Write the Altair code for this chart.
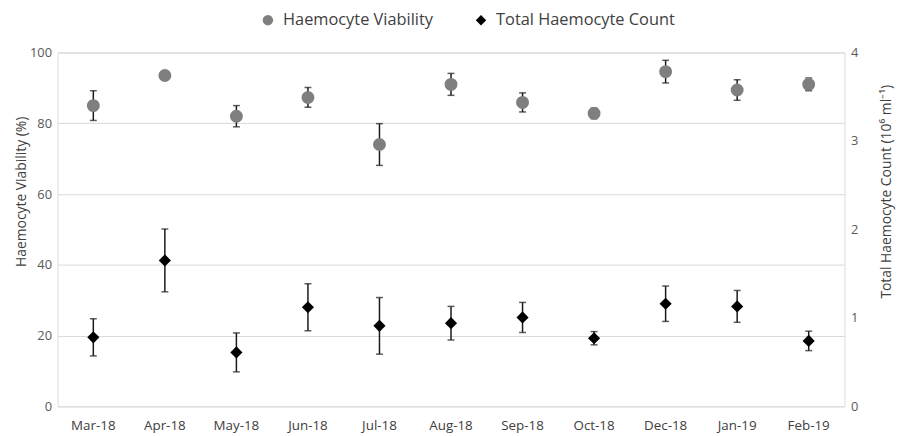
import altair as alt
import pandas as pd

months = ["Mar-18", "Apr-18", "May-18", "Jun-18", "Jul-18", "Aug-18",
          "Sep-18", "Oct-18", "Dec-18", "Jan-19", "Feb-19"]
viability = [85.0, 93.5, 82.0, 87.3, 74.0, 91.0, 85.9, 82.8, 94.6, 89.4, 91.0]
viability_sd = [4.2, 0.8, 3.0, 2.8, 5.9, 3.1, 2.7, 1.5, 3.2, 2.9, 1.8]
thc = [0.78, 1.65, 0.61, 1.12, 0.91, 0.94, 1.005, 0.77, 1.16, 1.13, 0.74]
thc_sd = [0.21, 0.355, 0.22, 0.265, 0.32, 0.19, 0.17, 0.075, 0.20, 0.18, 0.11]

S1 = "Haemocyte Viability"
S2 = "Total Haemocyte Count"

dfa = pd.DataFrame({
    "month": months, "v": viability,
    "lo": [v - s for v, s in zip(viability, viability_sd)],
    "hi": [v + s for v, s in zip(viability, viability_sd)],
    "series": S1,
})
dfb = pd.DataFrame({
    "month": months, "v": thc,
    "lo": [v - s for v, s in zip(thc, thc_sd)],
    "hi": [v + s for v, s in zip(thc, thc_sd)],
    "series": S2,
})

FONT = "Open Sans"
x = alt.X("month:N", sort=months, title=None,
          scale=alt.Scale(paddingInner=0, paddingOuter=0),
          axis=alt.Axis(labelAngle=0, ticks=False, domain=False, grid=False,
                        labelPadding=12, labelFontSize=13.5, labelColor="#404040",
                        labelFont=FONT))


def legend():
    return alt.Legend(orient="none", legendX=204, legendY=-41, direction="horizontal",
                      title=None, labelFontSize=16.5, labelFont=FONT, labelLimit=0,
                      labelColor="#404040", symbolSize=110, columnPadding=40,
                      labelOffset=7)


color = alt.Color("series:N", scale=alt.Scale(domain=[S1, S2], range=["#7f7f7f", "#000000"]),
                  legend=legend())
shape = alt.Shape("series:N", scale=alt.Scale(domain=[S1, S2], range=["circle", "diamond"]),
                  legend=legend())


def layer_for(df, domain, axis, size):
    ys = alt.Scale(domain=domain, nice=False, zero=True)
    base = alt.Chart(df)
    rule = base.mark_rule(color="#1a1a1a", strokeWidth=1.5).encode(
        x=x, y=alt.Y("lo:Q", scale=ys, axis=axis), y2="hi:Q")
    tlo = base.mark_tick(color="#1a1a1a", size=7, thickness=1.5).encode(
        x=x, y=alt.Y("lo:Q", scale=ys))
    thi = base.mark_tick(color="#1a1a1a", size=7, thickness=1.5).encode(
        x=x, y=alt.Y("hi:Q", scale=ys))
    pts = base.mark_point(filled=True, opacity=1, size=size).encode(
        x=x, y=alt.Y("v:Q", scale=ys), color=color, shape=shape)
    return alt.layer(rule, tlo, thi, pts)


left_axis = alt.Axis(title="Haemocyte Viability (%)", values=[0, 20, 40, 60, 80, 100],
                     ticks=False, domain=False, grid=True, gridColor="#d9d9d9",
                     labelPadding=6, labelFontSize=13, labelColor="#595959", labelFont=FONT,
                     titleFont=FONT, titleFontSize=14, titleFontWeight="normal",
                     titleColor="#404040", titlePadding=1, titleY=140)
right_axis = alt.Axis(title="Total Haemocyte Count (10⁶ ml⁻¹)", orient="right",
                      values=[0, 1, 2, 3, 4], format="d", ticks=False, domain=False, grid=False,
                      labelPadding=6, labelFontSize=13, labelColor="#595959", labelFont=FONT,
                      titleFont=FONT, titleFontSize=14, titleFontWeight="normal",
                      titleColor="#404040", titlePadding=22, titleAngle=270,
                      titleBaseline="top", titleY=140)

la = layer_for(dfa, [0, 100], left_axis, 170)
lb = layer_for(dfb, [0, 4], right_axis, 150)

chart = alt.layer(la, lb).resolve_scale(y="independent").properties(
    width=794, height=357,
    autosize=alt.AutoSizeParams(type="none"),
    padding={"left": 50, "top": 43, "right": 52, "bottom": 28},
).configure_view(stroke=None).configure(background="white")

chart.save("out.html", embed_options={"renderer": "svg", "actions": False})
